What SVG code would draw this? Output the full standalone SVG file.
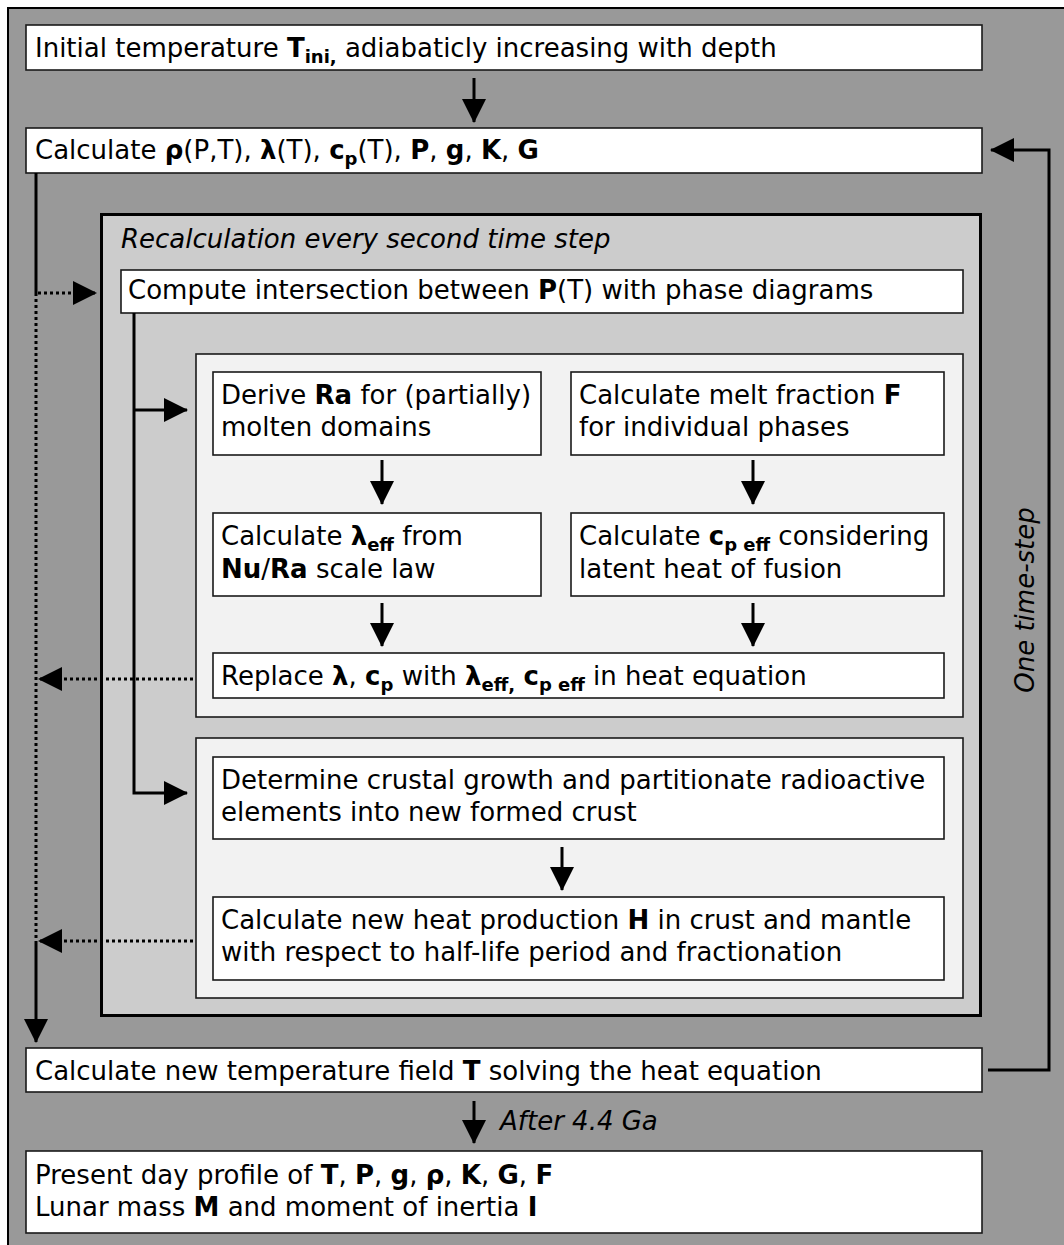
<svg xmlns="http://www.w3.org/2000/svg" width="1064" height="1245" viewBox="0 0 1064 1245">
<style>
.t{font-family:"DejaVu Sans",Verdana,sans-serif;font-size:26px;fill:#000}
.b{font-weight:bold}
.i{font-style:italic}
.s{font-size:18px}
.box{fill:#fff;stroke:#1a1a1a;stroke-width:1.6}
.panel{fill:#f2f2f2;stroke:#1a1a1a;stroke-width:1.6}
.ln{fill:none;stroke:#000;stroke-width:3}
.dot{fill:none;stroke:#000;stroke-width:3;stroke-dasharray:3 3}
</style>
<defs>
<marker id="ah" markerUnits="userSpaceOnUse" markerWidth="24" markerHeight="24" refX="23" refY="12" orient="auto" viewBox="0 0 24 24">
<path d="M0,0 L24,12 L0,24 z" fill="#000"/>
</marker>
</defs>
<rect x="0" y="0" width="1064" height="1245" fill="#fff"/>
<rect id="frame" x="8" y="8" width="1070" height="1250" fill="#999" stroke="#000" stroke-width="2"/>

<g id="n-initial">
<rect class="box" x="26" y="25" width="956" height="45"/>
<text class="t" x="35" y="57">Initial temperature <tspan class="b">T<tspan class="s" dy="6">ini,</tspan></tspan><tspan dy="-6"> adiabaticly increasing with depth</tspan></text>
</g>

<g id="n-calc">
<rect class="box" x="26" y="128" width="956" height="45"/>
<text class="t" x="35" y="159">Calculate <tspan class="b">ρ</tspan>(P,T), <tspan class="b">λ</tspan>(T), <tspan class="b">c<tspan class="s" dy="6">p</tspan></tspan><tspan dy="-6">(T), </tspan><tspan class="b">P</tspan>, <tspan class="b">g</tspan>, <tspan class="b">K</tspan>, <tspan class="b">G</tspan></text>
</g>

<g id="n-recalc">
<rect x="101.5" y="214.5" width="879" height="801" fill="#ccc" stroke="#000" stroke-width="3"/>
<text class="t i" x="121" y="248">Recalculation every second time step</text>
</g>

<g id="n-compute">
<rect class="box" x="121" y="270" width="842" height="43"/>
<text class="t" x="128" y="299">Compute intersection between <tspan class="b">P</tspan>(T) with phase diagrams</text>
</g>

<g id="n-panel1">
<rect class="panel" x="196" y="354" width="767" height="363"/>
</g>

<g id="n-derive">
<rect class="box" x="213" y="372" width="328" height="83"/>
<text class="t" x="221" y="404">Derive <tspan class="b">Ra</tspan> for (partially)</text>
<text class="t" x="221" y="436">molten domains</text>
</g>

<g id="n-melt">
<rect class="box" x="571" y="372" width="373" height="83"/>
<text class="t" x="579" y="404">Calculate melt fraction <tspan class="b">F</tspan></text>
<text class="t" x="579" y="436">for individual phases</text>
</g>

<g id="n-lameff">
<rect class="box" x="213" y="513" width="328" height="83"/>
<text class="t" x="221" y="545">Calculate <tspan class="b">λ<tspan class="s" dy="6">eff</tspan></tspan><tspan dy="-6"> from</tspan></text>
<text class="t" x="221" y="578"><tspan class="b">Nu</tspan>/<tspan class="b">Ra</tspan> scale law</text>
</g>

<g id="n-cpeff">
<rect class="box" x="571" y="513" width="373" height="83"/>
<text class="t" x="579" y="545">Calculate <tspan class="b">c<tspan class="s" dy="6">p eff</tspan></tspan><tspan dy="-6"> considering</tspan></text>
<text class="t" x="579" y="578">latent heat of fusion</text>
</g>

<g id="n-replace">
<rect class="box" x="213" y="653" width="731" height="45"/>
<text class="t" x="221" y="685">Replace <tspan class="b">λ</tspan>, <tspan class="b">c<tspan class="s" dy="6">p</tspan></tspan><tspan dy="-6"> with </tspan><tspan class="b">λ<tspan class="s" dy="6">eff,</tspan></tspan><tspan dy="-6"> </tspan><tspan class="b">c<tspan class="s" dy="6">p eff</tspan></tspan><tspan dy="-6"> in heat equation</tspan></text>
</g>

<g id="n-panel2">
<rect class="panel" x="196" y="738" width="767" height="260"/>
</g>

<g id="n-crust">
<rect class="box" x="213" y="757" width="731" height="82"/>
<text class="t" x="221" y="789">Determine crustal growth and partitionate radioactive</text>
<text class="t" x="221" y="821">elements into new formed crust</text>
</g>

<g id="n-heat">
<rect class="box" x="213" y="897" width="731" height="83"/>
<text class="t" x="221" y="929">Calculate new heat production <tspan class="b">H</tspan> in crust and mantle</text>
<text class="t" x="221" y="961">with respect to half-life period and fractionation</text>
</g>

<g id="n-newtemp">
<rect class="box" x="26" y="1048" width="956" height="44"/>
<text class="t" x="35" y="1080">Calculate new temperature field <tspan class="b">T</tspan> solving the heat equation</text>
</g>

<g id="n-present">
<rect class="box" x="26" y="1151" width="956" height="82"/>
<text class="t" x="35" y="1184">Present day profile of <tspan class="b">T</tspan>, <tspan class="b">P</tspan>, <tspan class="b">g</tspan>, <tspan class="b">ρ</tspan>, <tspan class="b">K</tspan>, <tspan class="b">G</tspan>, <tspan class="b">F</tspan></text>
<text class="t" x="35" y="1216">Lunar mass <tspan class="b">M</tspan> and moment of inertia <tspan class="b">I</tspan></text>
</g>

<g id="connectors">
<line class="ln" x1="474" y1="78" x2="474" y2="122" marker-end="url(#ah)"/>
<polyline class="ln" points="988,1070 1049,1070 1049,150 991,150" marker-end="url(#ah)"/>
<line class="ln" x1="36" y1="173" x2="36" y2="293"/>
<line class="dot" x1="36" y1="293" x2="36" y2="941"/>
<line class="dot" x1="38" y1="293" x2="96" y2="293" marker-end="url(#ah)"/>
<line class="ln" x1="36" y1="941" x2="36" y2="1042" marker-end="url(#ah)"/>
<line class="dot" x1="193" y1="679" x2="39" y2="679" marker-end="url(#ah)"/>
<line class="dot" x1="193" y1="941" x2="39" y2="941" marker-end="url(#ah)"/>
<polyline class="ln" points="134,313 134,793 187,793" marker-end="url(#ah)"/>
<line class="ln" x1="134" y1="410" x2="187" y2="410" marker-end="url(#ah)"/>
<line class="ln" x1="382" y1="460" x2="382" y2="504" marker-end="url(#ah)"/>
<line class="ln" x1="753" y1="460" x2="753" y2="504" marker-end="url(#ah)"/>
<line class="ln" x1="382" y1="603" x2="382" y2="646" marker-end="url(#ah)"/>
<line class="ln" x1="753" y1="603" x2="753" y2="646" marker-end="url(#ah)"/>
<line class="ln" x1="562" y1="847" x2="562" y2="890" marker-end="url(#ah)"/>
<line class="ln" x1="474" y1="1101" x2="474" y2="1143" marker-end="url(#ah)"/>
</g>

<g id="labels">
<text class="t i" x="500" y="1130">After 4.4 Ga</text>
<text class="t i" x="1034" y="600" text-anchor="middle" transform="rotate(-90 1034 600)">One time-step</text>
</g>
</svg>
